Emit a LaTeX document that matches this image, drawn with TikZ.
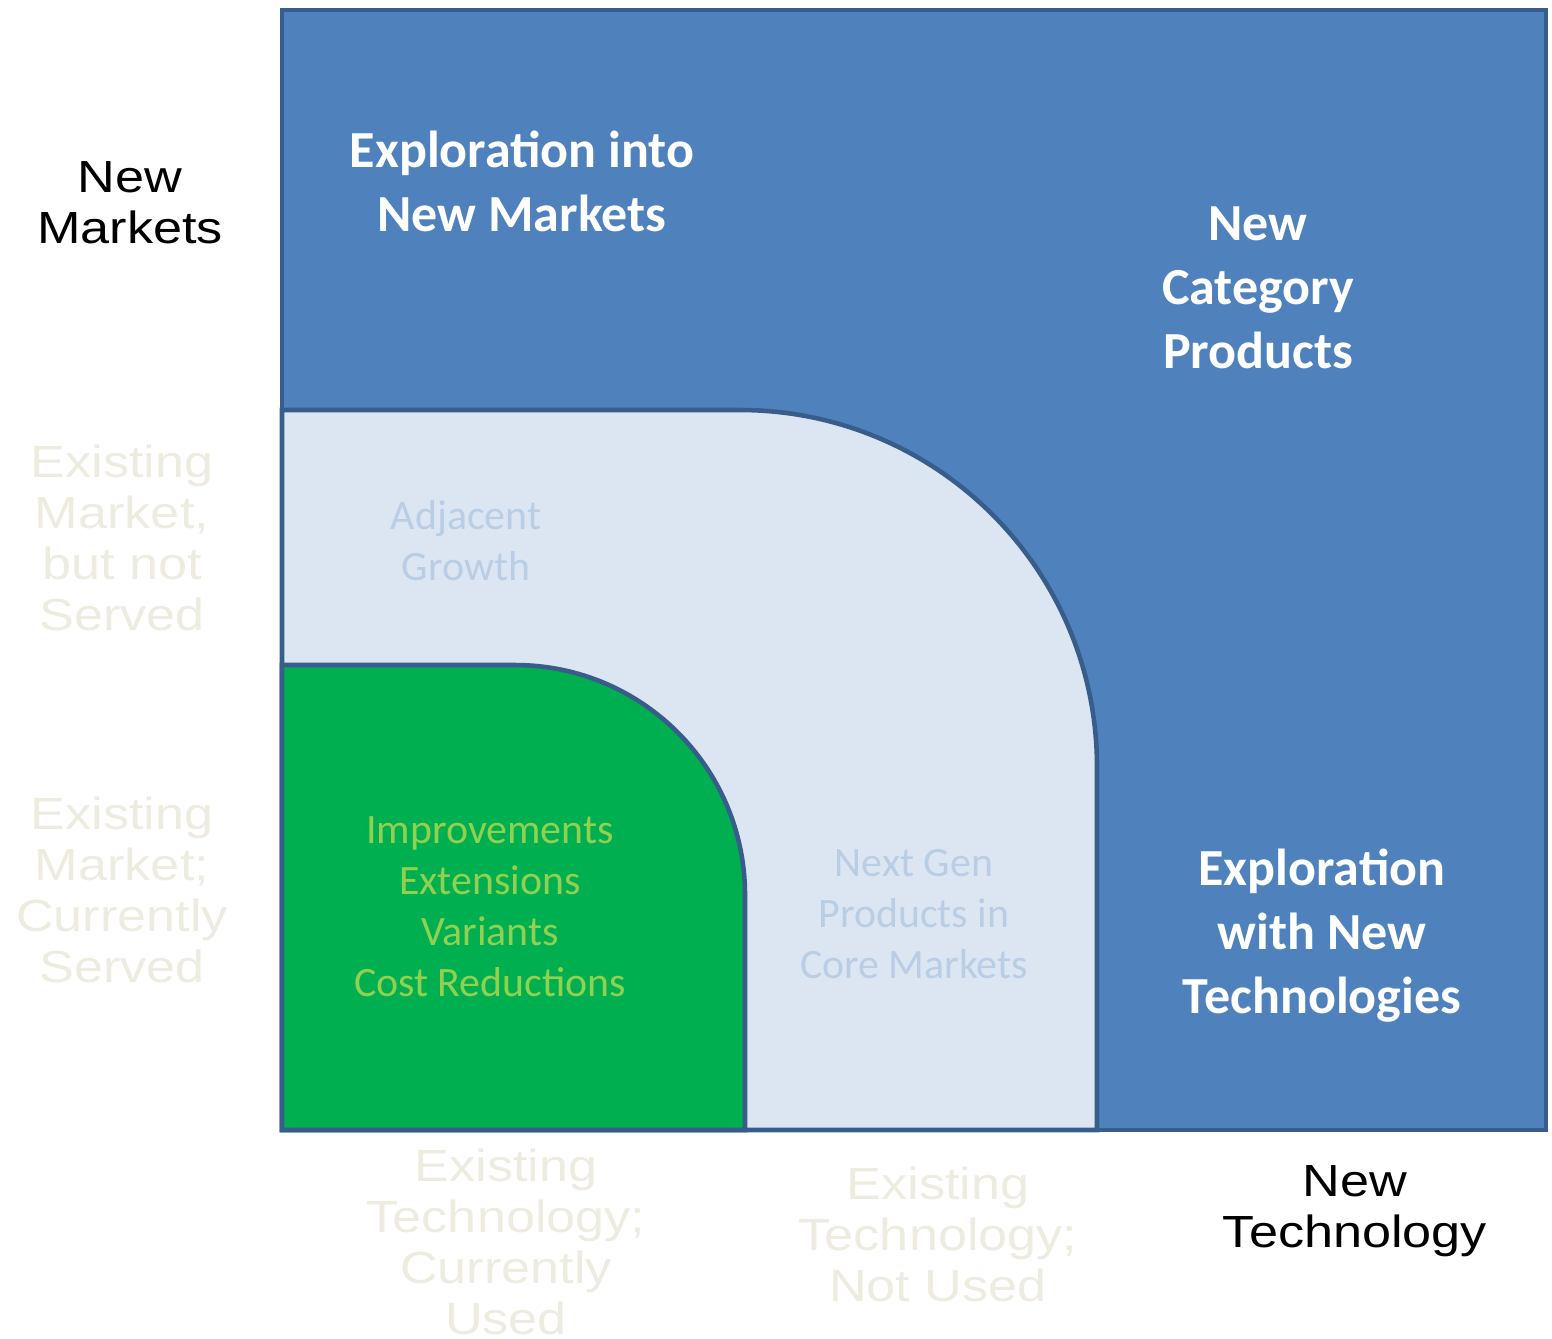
\documentclass[tikz,border=0pt]{standalone}
\usepackage{fontspec}
\setmainfont{Carlito}
\newfontfamily\widefont[FakeStretch=1.16]{Liberation Sans}
\newcommand\tightlines{\lineskiplimit=-20pt\relax}
\definecolor{quadblue}{HTML}{4F81BD}
\definecolor{quadpale}{HTML}{DCE6F2}
\definecolor{quadgreen}{HTML}{00B050}
\definecolor{quadedge}{HTML}{385D8A}
\definecolor{greentext}{HTML}{92D050}
\definecolor{paletext}{HTML}{B9CDE5}
\definecolor{faint}{HTML}{EEECE1}

\begin{document}
\begin{tikzpicture}[x=0.01cm,y=-0.01cm,
	edge/.style={draw=quadedge,line width=1.3pt},
	bigtag/.style={text=white,align=center,font=\fontsize{14.8}{18.2}\selectfont\bfseries},
	smalltag/.style={align=center,font=\fontsize{11.9}{14.5}\selectfont},
	sideaxis/.style={align=center,font=\widefont\fontsize{12.8}{14.5}\selectfont\tightlines}]
	\useasboundingbox (0,0) rectangle (1552,1338);
	% quadrants
	\fill[quadblue] (282,10) rectangle (1546,1130);
	\path[edge,fill=quadpale] (282,1130) -- (282,410) -- (740,410) arc[start angle=-90,end angle=0,radius=357] -- (1097,1130) -- cycle;
	\path[edge,fill=quadgreen] (282,1130) -- (282,665) -- (515,665) arc[start angle=-90,end angle=0,radius=230] -- (745,1130) -- cycle;
	\draw[edge] (282,10) rectangle (1546,1130);
	% axis labels
	\node[sideaxis] (newmkt) at (130,203) {New\\Markets};
	\node[sideaxis,text=faint] (adjmkt) at (122,538) {Existing\\Market,\\but not\\Served};
	\node[sideaxis,text=faint] (curmkt) at (122,890) {Existing\\Market;\\Currently\\Served};
	\node[sideaxis,text=faint] (curtech) at (506,1242) {Existing\\Technology;\\Currently\\Used};
	\node[sideaxis,text=faint] (unusedtech) at (938,1234) {Existing\\Technology;\\Not Used};
	\node[sideaxis] (newtech) at (1355,1211) {New\\Technology};
	% quadrant labels
	\node[bigtag] (explmkt) at (522,181) {Exploration into\\New Markets};
	\node[bigtag] (newcat) at (1258,288) {New\\Category\\Products};
	\node[bigtag] (expltech) at (1322,936) {Exploration\\with New\\Technologies};
	\node[smalltag,text=paletext] (adjgrowth) at (466,541) {Adjacent\\Growth};
	\node[smalltag,text=greentext] (core) at (490,907) {Improvements\\Extensions\\Variants\\Cost Reductions};
	\node[smalltag,text=paletext] (nextgen) at (914,914) {Next Gen\\Products in\\Core Markets};
\end{tikzpicture}
\end{document}
